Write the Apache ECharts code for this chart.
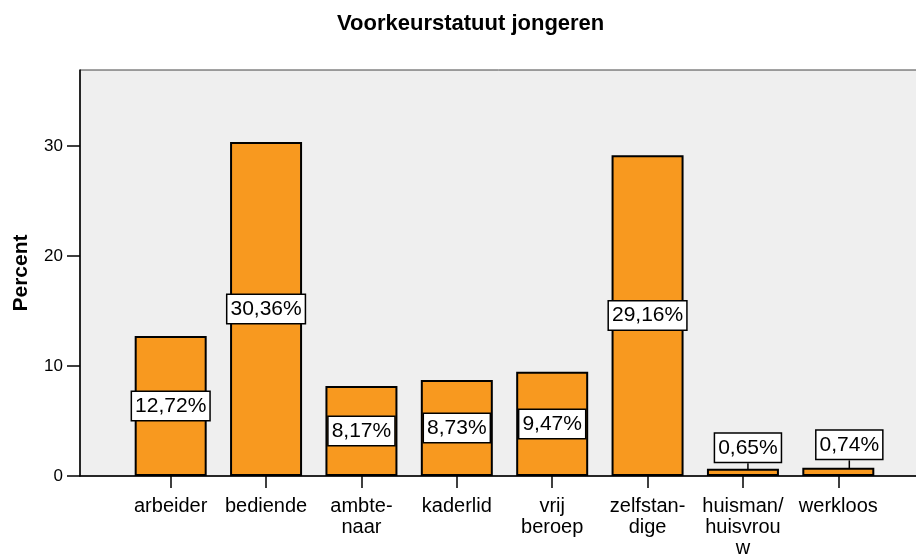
<!DOCTYPE html>
<html>
<head>
<meta charset="utf-8">
<script src="https://cdn.jsdelivr.net/npm/echarts@6/dist/echarts.min.js"></script>
<style>
  html, body { margin: 0; padding: 0; background: #fff; }
  #chart { width: 916px; height: 554px; }
</style>
</head>
<body>
<div id="chart"></div>
<script>
var categories = ['arbeider', 'bediende', 'ambte-\nnaar', 'kaderlid', 'vrij\nberoep', 'zelfstan-\ndige', 'huisman/\nhuisvrou\nw', 'werkloos'];
var percents = [12.72, 30.36, 8.17, 8.73, 9.47, 29.16, 0.65, 0.74];
var yTicks = [0, 10, 20, 30];

var chartDom = document.getElementById('chart');
var myChart = echarts.init(chartDom);
var font = 'Arial, "Liberation Sans", sans-serif';

// small bars get their label lifted above the bar with a leader line
var barData = percents.map(function (v) {
  if (v < 2) {
    return {
      value: v,
      label: { position: 'top', distance: 2 },
      labelLine: { show: true, lineStyle: { color: '#000', width: 1.5 } }
    };
  }
  return v;
});

var option = {
  animation: false,
  title: {
    text: 'Voorkeurstatuut jongeren',
    left: 332,
    top: 8,
    textStyle: { fontFamily: font, fontSize: 22, fontWeight: 'bold', color: '#000' }
  },
  grid: [
    { left: 80, top: 70, right: -20, bottom: 78, outerBoundsMode: 'none', containLabel: false, show: true, backgroundColor: '#efefef', borderColor: '#444', borderWidth: 1 },
    { left: 123, width: 763, top: 70, bottom: 78, outerBoundsMode: 'none', containLabel: false }
  ],
  xAxis: [
    { gridIndex: 0, type: 'value', min: 0, max: 1, axisLine: { show: true, onZero: false, lineStyle: { color: '#000', width: 1.5 } }, axisTick: { show: false }, axisLabel: { show: false }, splitLine: { show: false } },
    {
      gridIndex: 1,
      type: 'category',
      data: categories,
      axisLine: { show: false },
      axisTick: { show: true, alignWithLabel: true, length: 12, lineStyle: { color: '#000', width: 1.5 } },
      axisLabel: { margin: 20, fontFamily: font, fontSize: 20, color: '#000', lineHeight: 21, interval: 0 }
    }
  ],
  yAxis: [
    { gridIndex: 0, type: 'value', min: 0, max: 1, axisLine: { show: false }, axisTick: { show: false }, axisLabel: { show: false }, splitLine: { show: false } },
    {
      gridIndex: 1,
      type: 'value',
      min: 0,
      max: 36.9,
      interval: 10,
      offset: 43,
      name: 'Percent',
      nameLocation: 'middle',
      nameGap: 48,
      nameTextStyle: { fontFamily: font, fontSize: 21, fontWeight: 'bold', color: '#000' },
      axisLine: { show: true, lineStyle: { color: '#000', width: 1.5 } },
      axisTick: { show: true, length: 13, customValues: yTicks, lineStyle: { color: '#000', width: 1.5 } },
      axisLabel: { margin: 17, fontFamily: font, fontSize: 17, color: '#000', customValues: yTicks },
      splitLine: { show: false }
    }
  ],
  series: [
    {
      type: 'bar',
      xAxisIndex: 1,
      yAxisIndex: 1,
      data: barData,
      barWidth: 72,
      itemStyle: { color: '#f8991f', borderColor: '#000', borderWidth: 2 },
      label: {
        show: true,
        position: 'inside',
        formatter: function (p) { return p.value.toFixed(2).replace('.', ',') + '%'; },
        fontFamily: font,
        fontSize: 21,
        color: '#000',
        backgroundColor: '#fff',
        borderColor: '#000',
        borderWidth: 1.5,
        padding: [4, 3, 3, 3]
      },
      labelLayout: function (p) {
        if (p.dataIndex === 6) return { dx: 5, dy: -5 };
        if (p.dataIndex === 7) return { dx: 11, dy: -7 };
      }
    }
  ]
};

option && myChart.setOption(option);
</script>
</body>
</html>
